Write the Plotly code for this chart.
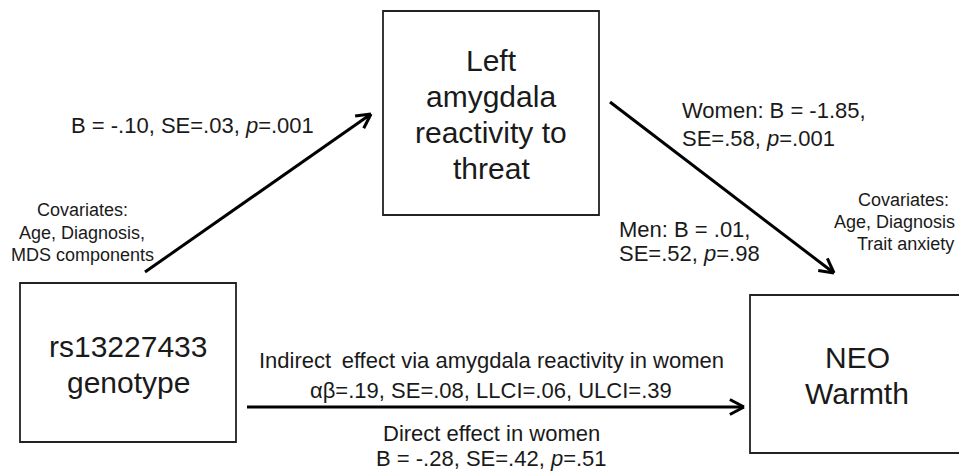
import math
import plotly.graph_objects as go

# ---- content (text of the mediation diagram) ----
node_labels = {
    "mediator": ["Left", "amygdala", "reactivity to", "threat"],
    "predictor": ["rs13227433", "genotype"],
    "outcome": ["NEO", "Warmth"],
}
path_a_label = ["B = -.10, SE=.03, <i>p</i>=.001"]
path_b_women_label = ["Women: B = -1.85,", "SE=.58, <i>p</i>=.001"]
path_b_men_label = ["Men: B = .01,", "SE=.52, <i>p</i>=.98"]
path_c_top_label = ["Indirect\u2009 effect via amygdala reactivity in women",
                    "\u03b1\u03b2=.19, SE=.08, LLCI=.06, ULCI=.39"]
path_c_bottom_label = ["Direct effect in women", "B = -.28, SE=.42, <i>p</i>=.51"]
covariates_left = ["Covariates:", "Age, Diagnosis,", "MDS components"]
covariates_right = ["Covariates:", "Age, Diagnosis", "Trait anxiety"]

# ---- geometry (pixel space of the 959x471 canvas) ----
W, H = 959, 471
boxes = {
    "mediator": (383, 11, 599, 215),
    "predictor": (20, 283, 236, 442),
    "outcome": (750, 295, 980, 453),
}
node_text_center = {"mediator": (491, 114), "predictor": (128, 364), "outcome": (857, 375)}
node_line_gap = 36
arrows = [((145, 272), (371, 114)), ((610, 102), (834, 273)), ((247, 407), (744, 407))]

FONT = "Arial, 'Liberation Sans', sans-serif"
TXT = "#1a1a1a"

fig = go.Figure()

# boxes
for key, (x0, y0, x1, y1) in boxes.items():
    fig.add_shape(type="rect", x0=x0, y0=y0, x1=x1, y1=y1, xref="x", yref="y",
                  line=dict(color="#222222", width=1.8), fillcolor="rgba(0,0,0,0)")

# arrows (shaft + open V head)
head_len, head_ang = 16, math.radians(28)
for (sx, sy), (ex, ey) in arrows:
    ang = math.atan2(ey - sy, ex - sx)
    xs = [sx, ex, None]
    ys = [sy, ey, None]
    for s in (1, -1):
        a = ang + math.pi + s * head_ang
        xs += [ex + head_len * math.cos(a), ex, None]
        ys += [ey + head_len * math.sin(a), ey, None]
    fig.add_trace(go.Scatter(x=xs, y=ys, mode="lines",
                             line=dict(color="#000000", width=3),
                             hoverinfo="skip", showlegend=False))

def add_line(t, x, y, size, anchor="center"):
    fig.add_annotation(x=x, y=y, text=t, showarrow=False,
                       xref="x", yref="y", xanchor=anchor, yanchor="middle",
                       font=dict(family=FONT, size=size, color=TXT))

def add_lines(lines, x, y0, gap, size, anchor="center"):
    for i, t in enumerate(lines):
        add_line(t, x, y0 + i * gap, size, anchor)

# node texts
for key, lines in node_labels.items():
    cx, cy = node_text_center[key]
    n = len(lines)
    add_lines(lines, cx, cy - (n - 1) * node_line_gap / 2, node_line_gap, 30)

# path labels
add_lines(path_a_label, 192, 125, 0, 22)
add_lines(path_b_women_label, 680, 110, 28, 22, "left")
add_lines(path_b_men_label, 617, 229, 24, 22, "left")
add_lines(path_c_top_label, 491, 360, 30, 22)
add_lines(path_c_bottom_label, 491, 433, 25, 22)

# covariates
add_lines(covariates_left, 82, 210, 22.5, 18)
add_line(covariates_right[0], 903, 200, 18)
add_line(covariates_right[1], 957, 222, 18, "right")
add_line(covariates_right[2], 905, 244, 18)

fig.update_layout(
    width=W, height=H, margin=dict(l=0, r=0, t=0, b=0),
    paper_bgcolor="white", plot_bgcolor="white",
    xaxis=dict(range=[0, W], visible=False, fixedrange=True),
    yaxis=dict(range=[H, 0], visible=False, fixedrange=True),
    showlegend=False,
)

fig.write_html("out.html", post_script="document.body.style.margin='0';",
               config={"displayModeBar": False})
